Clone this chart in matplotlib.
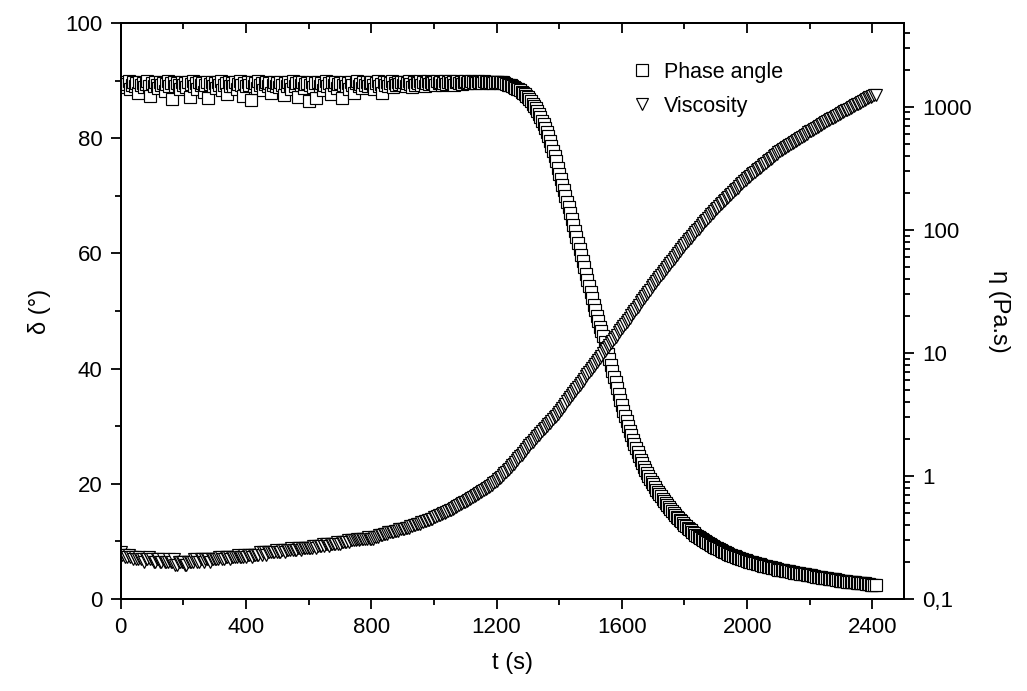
import numpy as np
import matplotlib
matplotlib.use("Agg")
import matplotlib.pyplot as plt
from matplotlib.ticker import MultipleLocator, FixedLocator, FuncFormatter, LogLocator, NullFormatter

plt.rcParams["font.family"] = ["Liberation Sans", "DejaVu Sans"]

# ── Data (5 s sampling, one row = 100 s) ─────────────────────────────────────
T_STEP = 5
time_s = np.arange(0, 2411, T_STEP)

phase_angle = [
    89.6, 89.1, 89.8, 88.9, 89.4, 89.9, 88.6, 89.3, 89.7, 89.0, 89.5, 87.9, 89.8, 89.2, 89.6, 88.9, 89.4, 89.9, 89.1, 87.4,
    89.5, 89.0, 89.7, 89.3, 88.7, 89.8, 89.2, 89.6, 88.2, 89.4, 89.9, 89.1, 89.5, 86.8, 89.7, 89.0, 89.6, 89.3, 88.5, 89.8,
    89.2, 89.6, 88.9, 89.7, 87.1, 89.4, 89.9, 89.0, 89.5, 88.6, 89.8, 89.2, 89.6, 88.1, 89.3, 89.7, 86.9, 89.4, 89.8, 89.1,
    89.5, 88.8, 89.7, 89.3, 89.9, 88.4, 89.2, 89.6, 87.7, 89.8, 89.1, 89.5, 89.0, 89.7, 88.6, 89.4, 89.9, 89.2, 87.3, 89.6,
    89.0, 89.7, 89.3, 86.7, 89.8, 89.1, 89.5, 88.7, 89.9, 89.2, 89.6, 88.3, 89.4, 89.8, 89.0, 89.6, 87.8, 89.3, 89.7, 89.1,
    89.5, 88.9, 89.8, 89.2, 87.5, 89.6, 89.0, 89.7, 89.3, 88.5, 89.9, 89.1, 89.5, 87.2, 89.7, 89.3, 89.8, 88.8, 89.4, 89.6,
    86.5, 89.2, 89.7, 88.9, 89.5, 87.0, 89.8, 89.1, 89.6, 88.4, 89.3, 89.9, 89.0, 89.5, 87.6, 89.7, 89.2, 89.8, 88.7, 89.4,
    89.6, 86.9, 89.3, 89.8, 89.0, 89.5, 88.6, 89.7, 89.2, 87.9, 89.6, 89.9, 89.1, 89.4, 88.8, 89.7, 89.3, 89.8, 89.0, 89.5,
    89.7, 89.2, 88.5, 89.6, 89.9, 89.1, 89.4, 87.8, 89.7, 89.3, 89.8, 89.0, 89.5, 89.9, 88.9, 89.6, 89.2, 89.8, 89.4, 89.7,
    89.3, 89.8, 89.1, 89.6, 89.9, 89.4, 88.9, 89.7, 89.2, 89.8, 89.5, 89.9, 89.3, 89.7, 89.0, 89.6, 89.9, 89.4, 89.8, 89.5,
    89.7, 89.3, 89.9, 89.5, 89.8, 89.2, 89.6, 89.9, 89.4, 89.7, 89.9, 89.5, 89.8, 89.3, 89.7, 89.9, 89.6, 89.8, 89.4, 89.7,
    89.9, 89.6, 89.8, 89.5, 89.9, 89.7, 89.8, 89.6, 89.9, 89.7, 89.8, 89.5, 89.9, 89.7, 89.8, 89.6, 89.7, 89.8, 89.6, 89.7,
    89.8, 89.7, 89.6, 89.7, 89.7, 89.5, 89.4, 89.3, 89.3, 89.2, 89.1, 88.9, 88.8, 88.6, 88.5, 88.3, 88.1, 87.9, 87.7, 87.4,
    87.1, 86.8, 86.4, 86.0, 85.6, 85.2, 84.7, 84.2, 83.6, 83.0, 82.4, 81.7, 81.0, 80.3, 79.5, 78.7, 77.8, 76.9, 76.0, 74.9,
    73.8, 72.9, 71.9, 71.0, 70.0, 69.0, 68.0, 67.0, 66.0, 65.0, 63.9, 62.9, 61.8, 60.8, 59.7, 58.7, 57.6, 56.5, 55.4, 54.4,
    53.3, 52.2, 51.1, 50.1, 49.1, 48.2, 47.3, 46.5, 45.6, 44.6, 43.6, 42.6, 41.6, 40.6, 39.6, 38.6, 37.6, 36.6, 35.6, 34.6,
    33.7, 32.7, 31.8, 30.9, 30.0, 29.2, 28.4, 27.6, 26.9, 26.2, 25.5, 24.8, 24.2, 23.6, 23.0, 22.4, 21.9, 21.4, 20.9, 20.4,
    19.9, 19.4, 19.0, 18.6, 18.2, 17.8, 17.4, 17.0, 16.6, 16.3, 15.9, 15.6, 15.3, 14.9, 14.6, 14.3, 14.0, 13.7, 13.5, 13.2,
    12.9, 12.7, 12.4, 12.2, 11.9, 11.7, 11.5, 11.2, 11.0, 10.8, 10.6, 10.4, 10.2, 10.0, 9.9, 9.7, 9.5, 9.4, 9.2, 9.0,
    8.9, 8.8, 8.6, 8.5, 8.4, 8.2, 8.1, 8.0, 7.9, 7.7, 7.6, 7.5, 7.4, 7.3, 7.2, 7.1, 7.0, 6.9, 6.8, 6.7,
    6.6, 6.5, 6.4, 6.4, 6.3, 6.2, 6.1, 6.0, 6.0, 5.9, 5.8, 5.7, 5.7, 5.6, 5.5, 5.5, 5.4, 5.3, 5.3, 5.2,
    5.1, 5.1, 5.0, 5.0, 4.9, 4.9, 4.8, 4.8, 4.7, 4.7, 4.6, 4.6, 4.5, 4.5, 4.4, 4.4, 4.3, 4.3, 4.2, 4.2,
    4.1, 4.1, 4.0, 4.0, 3.9, 3.9, 3.8, 3.8, 3.7, 3.7, 3.6, 3.6, 3.5, 3.5, 3.4, 3.4, 3.4, 3.3, 3.3, 3.2,
    3.2, 3.2, 3.1, 3.1, 3.0, 3.0, 3.0, 2.9, 2.9, 2.9, 2.8, 2.8, 2.8, 2.7, 2.7, 2.7, 2.6, 2.6, 2.6, 2.5,
    2.5, 2.5, 2.4,
]

viscosity = [
    0.24, 0.23, 0.23, 0.22, 0.22, 0.23, 0.22, 0.22, 0.21, 0.22, 0.21, 0.21, 0.22, 0.21, 0.21, 0.20, 0.21, 0.21, 0.22, 0.21,
    0.21, 0.20, 0.20, 0.21, 0.21, 0.20, 0.20, 0.21, 0.20, 0.20, 0.20, 0.21, 0.20, 0.20, 0.21, 0.19, 0.19, 0.20, 0.20, 0.20,
    0.20, 0.19, 0.19, 0.20, 0.20, 0.20, 0.20, 0.21, 0.21, 0.20, 0.20, 0.21, 0.21, 0.20, 0.21, 0.21, 0.21, 0.20, 0.21, 0.21,
    0.21, 0.21, 0.21, 0.22, 0.22, 0.21, 0.21, 0.22, 0.22, 0.22, 0.21, 0.22, 0.22, 0.22, 0.22, 0.23, 0.22, 0.22, 0.22, 0.23,
    0.22, 0.23, 0.23, 0.23, 0.22, 0.23, 0.23, 0.23, 0.23, 0.24, 0.23, 0.24, 0.24, 0.23, 0.24, 0.24, 0.24, 0.24, 0.24, 0.25,
    0.24, 0.24, 0.24, 0.25, 0.25, 0.24, 0.25, 0.25, 0.25, 0.26, 0.25, 0.25, 0.25, 0.26, 0.26, 0.25, 0.26, 0.26, 0.26, 0.26,
    0.26, 0.26, 0.26, 0.27, 0.27, 0.26, 0.27, 0.27, 0.27, 0.28, 0.27, 0.28, 0.28, 0.27, 0.28, 0.28, 0.28, 0.28, 0.29, 0.28,
    0.28, 0.29, 0.29, 0.29, 0.29, 0.30, 0.29, 0.30, 0.30, 0.30, 0.30, 0.31, 0.30, 0.31, 0.31, 0.31, 0.31, 0.31, 0.32, 0.31,
    0.31, 0.31, 0.32, 0.32, 0.32, 0.33, 0.33, 0.33, 0.34, 0.34, 0.34, 0.35, 0.35, 0.35, 0.35, 0.36, 0.36, 0.36, 0.37, 0.37,
    0.37, 0.37, 0.38, 0.38, 0.38, 0.39, 0.39, 0.40, 0.40, 0.41, 0.41, 0.41, 0.42, 0.42, 0.43, 0.43, 0.44, 0.44, 0.45, 0.45,
    0.46, 0.46, 0.47, 0.48, 0.48, 0.49, 0.50, 0.50, 0.51, 0.52, 0.53, 0.53, 0.54, 0.55, 0.56, 0.57, 0.58, 0.59, 0.60, 0.61,
    0.62, 0.63, 0.64, 0.65, 0.66, 0.67, 0.69, 0.70, 0.71, 0.73, 0.74, 0.75, 0.77, 0.78, 0.80, 0.82, 0.83, 0.85, 0.87, 0.89,
    0.91, 0.94, 0.96, 0.99, 1.02, 1.05, 1.08, 1.11, 1.15, 1.19, 1.22, 1.26, 1.30, 1.35, 1.39, 1.44, 1.49, 1.54, 1.60, 1.66,
    1.72, 1.78, 1.84, 1.90, 1.96, 2.03, 2.10, 2.17, 2.24, 2.31, 2.39, 2.47, 2.55, 2.63, 2.72, 2.81, 2.90, 3.00, 3.10, 3.20,
    3.31, 3.44, 3.58, 3.72, 3.87, 4.03, 4.19, 4.36, 4.53, 4.71, 4.90, 5.10, 5.30, 5.51, 5.73, 5.96, 6.19, 6.44, 6.70, 6.97,
    7.24, 7.53, 7.83, 8.14, 8.47, 8.81, 9.16, 9.52, 9.91, 10.3, 10.7, 11.1, 11.6, 12.1, 12.5, 13.0, 13.6, 14.1, 14.7, 15.3,
    15.8, 16.5, 17.2, 17.9, 18.6, 19.4, 20.2, 21.0, 21.9, 22.8, 23.7, 24.7, 25.7, 26.8, 27.9, 29.0, 30.2, 31.4, 32.7, 34.1,
    35.5, 36.9, 38.3, 39.8, 41.3, 42.9, 44.6, 46.3, 48.1, 50.0, 51.9, 53.9, 56.0, 58.2, 60.4, 62.8, 65.2, 67.7, 70.3, 73.1,
    75.9, 78.5, 81.1, 83.9, 86.7, 89.7, 92.7, 95.9, 99.1, 102, 106, 110, 113, 117, 121, 125, 129, 134, 138, 143,
    148, 152, 157, 161, 166, 171, 176, 181, 186, 192, 197, 203, 209, 215, 221, 227, 234, 241, 248, 255,
    263, 269, 276, 283, 290, 297, 304, 311, 319, 327, 335, 343, 352, 360, 369, 378, 387, 397, 406, 416,
    427, 435, 444, 452, 461, 471, 480, 489, 499, 509, 519, 529, 540, 550, 561, 572, 583, 595, 607, 619,
    631, 642, 653, 665, 676, 688, 700, 712, 724, 737, 750, 763, 776, 790, 804, 818, 832, 846, 861, 876,
    891, 905, 920, 935, 951, 966, 982, 998, 1014, 1030, 1047, 1064, 1081, 1099, 1117, 1135, 1153, 1172, 1191, 1210,
    1230, 1245, 1259,
]

X_TICKS = [0, 400, 800, 1200, 1600, 2000, 2400]
D_TICKS = [0, 20, 40, 60, 80, 100]
ETA_TICKS = [0.1, 1, 10, 100, 1000]


def comma_fmt(v, pos):
    return f"{v:g}".replace(".", ",")


# ── Plot ─────────────────────────────────────────────────────────────────────
fig = plt.figure(figsize=(10.27, 6.91), dpi=100)
ax = fig.add_axes([0.1175, 0.1331, 0.7625, 0.8336])
ax2 = ax.twinx()

mk = dict(linestyle="none", markerfacecolor="white", markeredgecolor="black",
          markeredgewidth=0.85)
l1, = ax.plot(time_s, phase_angle, marker="s", markersize=8, label="Phase angle", **mk)
l2, = ax2.plot(time_s, viscosity, marker="v", markersize=9, label="Viscosity", **mk)

ax.set_xlim(0, 2500)
ax.set_ylim(0, 100)
ax2.set_yscale("log")
ax2.set_ylim(0.1, 4800)

ax.xaxis.set_major_locator(FixedLocator(X_TICKS))
ax.xaxis.set_minor_locator(MultipleLocator(200))
ax.yaxis.set_major_locator(FixedLocator(D_TICKS))
ax.yaxis.set_minor_locator(MultipleLocator(10))
ax2.yaxis.set_major_locator(FixedLocator(ETA_TICKS))
ax2.yaxis.set_major_formatter(FuncFormatter(comma_fmt))
ax2.yaxis.set_minor_locator(LogLocator(base=10, subs=np.arange(2, 10)))
ax2.yaxis.set_minor_formatter(NullFormatter())

for a in (ax, ax2):
    for s in a.spines.values():
        s.set_linewidth(1.4)
    a.tick_params(which="major", length=7, width=1.3, labelsize=16, pad=6)
    a.tick_params(which="minor", length=4, width=1.3)

ax.tick_params(axis="both", which="both", direction="out")
ax2.tick_params(axis="y", which="both", direction="out")

top = ax.secondary_xaxis("top")
top.xaxis.set_major_locator(FixedLocator(X_TICKS))
top.xaxis.set_minor_locator(MultipleLocator(200))
top.tick_params(which="both", direction="in", labeltop=False, width=1.3)
top.tick_params(which="major", length=7)
top.tick_params(which="minor", length=4)
top.spines["top"].set_linewidth(1.4)

ax.set_xlabel("t (s)", fontsize=17, labelpad=10)
ax.set_ylabel("δ (°)", fontsize=17, labelpad=10)
ax2.set_ylabel("η (Pa.s)", fontsize=17, rotation=270, labelpad=28)

ax2.legend([l1, l2], ["Phase angle", "Viscosity"], loc="center left",
           bbox_to_anchor=(0.625, 0.885), frameon=False, fontsize=15.5,
           handletextpad=0.4, labelspacing=0.6, handlelength=1.2)

plt.savefig("out.png", dpi=100)
plt.close()
